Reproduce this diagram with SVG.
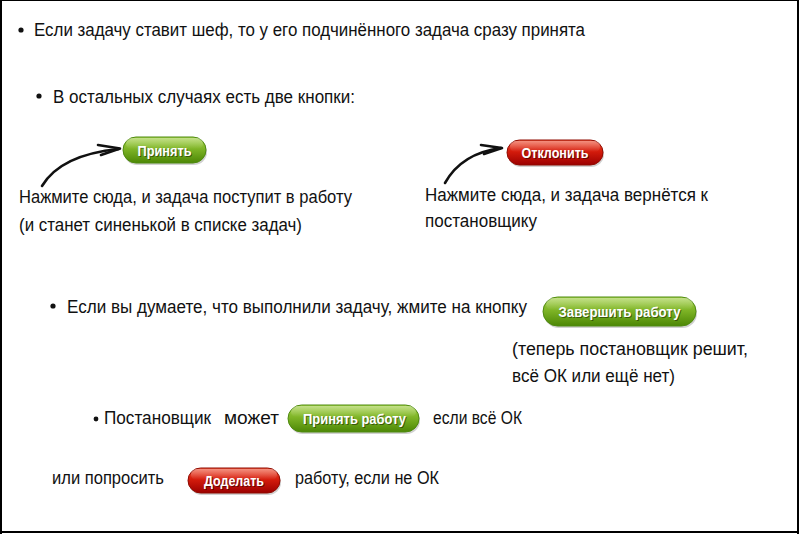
<svg xmlns="http://www.w3.org/2000/svg" width="800" height="534" viewBox="0 0 800 534">
<defs>
<linearGradient id="gGreen" x1="0" y1="0" x2="0" y2="1">
<stop offset="0" stop-color="#a6d24a"/>
<stop offset="0.45" stop-color="#7fb527"/>
<stop offset="1" stop-color="#4c8705"/>
</linearGradient>
<linearGradient id="gRed" x1="0" y1="0" x2="0" y2="1">
<stop offset="0" stop-color="#f0583c"/>
<stop offset="0.45" stop-color="#d51c0c"/>
<stop offset="1" stop-color="#9c0000"/>
</linearGradient>
<linearGradient id="gShine" x1="0" y1="0" x2="0" y2="1">
<stop offset="0" stop-color="#ffffff" stop-opacity="0.35"/>
<stop offset="1" stop-color="#ffffff" stop-opacity="0"/>
</linearGradient>
</defs>
<style>
.t{font-family:"Liberation Sans","DejaVu Sans",sans-serif;font-size:17.5px;fill:#111;}
.b{font-family:"Liberation Sans","DejaVu Sans",sans-serif;font-size:15px;font-weight:bold;fill:#fff;text-anchor:middle;}
.bs{font-family:"Liberation Sans","DejaVu Sans",sans-serif;font-size:15px;font-weight:bold;fill:#000;fill-opacity:0.45;text-anchor:middle;}
.green{fill:url(#gGreen);stroke:#4f8a10;stroke-width:1;}
.red{fill:url(#gRed);stroke:#8e0a00;stroke-width:1;}
.shadow{fill:#000;fill-opacity:0.18;}
.shine{fill:url(#gShine);}
.dot{fill:#111;}
.arr{fill:none;stroke:#111;stroke-width:2.6;stroke-linecap:round;stroke-linejoin:round;}
.frame{stroke:#000;}
</style>
<rect x="0" y="0" width="800" height="534" fill="#fff"/>
<g id="frame">
<line class="frame" x1="0" y1="0.5" x2="799" y2="0.5" stroke-width="1"/>
<line class="frame" x1="1" y1="0" x2="1" y2="534" stroke-width="2"/>
<line class="frame" x1="798" y1="0" x2="798" y2="534" stroke-width="2"/>
<line class="frame" x1="0" y1="532" x2="799" y2="532" stroke-width="2"/>
</g>
<g id="item1">
<circle class="dot" cx="21" cy="30" r="2.6"/>
<text class="t" x="34" y="36" textLength="551" lengthAdjust="spacingAndGlyphs">Если задачу ставит шеф, то у его подчинённого задача сразу принята</text>
</g>
<g id="item2">
<circle class="dot" cx="39" cy="96" r="2.6"/>
<text class="t" x="53" y="103" textLength="302" lengthAdjust="spacingAndGlyphs">В остальных случаях есть две кнопки:</text>
</g>
<g id="btn-accept">
<rect class="shadow" x="124" y="139" width="83" height="26" rx="13"/>
<rect class="green" x="123" y="137" width="83" height="26" rx="13"/>
<rect class="shine" x="126" y="138" width="77" height="11" rx="5.5"/>
<text class="bs" x="165.5" y="156.5" textLength="54" lengthAdjust="spacingAndGlyphs">Принять</text>
<text class="b" x="164.5" y="155.5" textLength="54" lengthAdjust="spacingAndGlyphs">Принять</text>
</g>
<g id="note-accept">
<text class="t" x="19" y="203" textLength="333" lengthAdjust="spacingAndGlyphs">Нажмите сюда, и задача поступит в работу</text>
<text class="t" x="19" y="231" textLength="283" lengthAdjust="spacingAndGlyphs">(и станет синенькой в списке задач)</text>
</g>
<g id="btn-reject">
<rect class="shadow" x="508" y="142" width="96" height="25" rx="12.5"/>
<rect class="red" x="507" y="140" width="96" height="25" rx="12.5"/>
<rect class="shine" x="510" y="141" width="90" height="11" rx="5.5"/>
<text class="bs" x="556" y="158.5" textLength="67" lengthAdjust="spacingAndGlyphs">Отклонить</text>
<text class="b" x="555" y="157.5" textLength="67" lengthAdjust="spacingAndGlyphs">Отклонить</text>
</g>
<g id="note-reject">
<text class="t" x="425" y="201" textLength="283" lengthAdjust="spacingAndGlyphs">Нажмите сюда, и задача вернётся к</text>
<text class="t" x="425" y="227" textLength="112" lengthAdjust="spacingAndGlyphs">постановщику</text>
</g>
<g id="item3">
<circle class="dot" cx="53" cy="306" r="2.6"/>
<text class="t" x="67" y="313" textLength="460" lengthAdjust="spacingAndGlyphs">Если вы думаете, что выполнили задачу, жмите на кнопку</text>
</g>
<g id="btn-finish">
<rect class="shadow" x="544" y="299" width="153" height="29" rx="14.5"/>
<rect class="green" x="543" y="297" width="153" height="29" rx="14.5"/>
<rect class="shine" x="546" y="298" width="147" height="12" rx="6"/>
<text class="bs" x="620.5" y="317.5" textLength="122" lengthAdjust="spacingAndGlyphs">Завершить работу</text>
<text class="b" x="619.5" y="316.5" textLength="122" lengthAdjust="spacingAndGlyphs">Завершить работу</text>
</g>
<g id="note-finish">
<text class="t" x="512" y="355" textLength="236" lengthAdjust="spacingAndGlyphs">(теперь постановщик решит,</text>
<text class="t" x="512" y="382" textLength="163" lengthAdjust="spacingAndGlyphs">всё ОК или ещё нет)</text>
</g>
<g id="item4">
<circle class="dot" cx="96" cy="419" r="2.4"/>
<text class="t" x="104" y="424" textLength="107" lengthAdjust="spacingAndGlyphs">Постановщик</text>
<text class="t" x="224" y="424" textLength="55" lengthAdjust="spacingAndGlyphs">может</text>
<text class="t" x="433" y="424" textLength="89" lengthAdjust="spacingAndGlyphs">если всё ОК</text>
</g>
<g id="btn-accept-work">
<rect class="shadow" x="289" y="407" width="131" height="27" rx="13.5"/>
<rect class="green" x="288" y="405" width="131" height="27" rx="13.5"/>
<rect class="shine" x="291" y="406" width="125" height="11" rx="5.5"/>
<text class="bs" x="355.5" y="424.5" textLength="103" lengthAdjust="spacingAndGlyphs">Принять работу</text>
<text class="b" x="354.5" y="423.5" textLength="103" lengthAdjust="spacingAndGlyphs">Принять работу</text>
</g>
<g id="item5">
<text class="t" x="52" y="484" textLength="112" lengthAdjust="spacingAndGlyphs">или попросить</text>
<text class="t" x="295" y="484" textLength="144" lengthAdjust="spacingAndGlyphs">работу, если не ОК</text>
</g>
<g id="btn-rework">
<rect class="shadow" x="189" y="470" width="92" height="25" rx="12.5"/>
<rect class="red" x="188" y="468" width="92" height="25" rx="12.5"/>
<rect class="shine" x="191" y="469" width="86" height="11" rx="5.5"/>
<text class="bs" x="235" y="486.5" textLength="60" lengthAdjust="spacingAndGlyphs">Доделать</text>
<text class="b" x="234" y="485.5" textLength="60" lengthAdjust="spacingAndGlyphs">Доделать</text>
</g>
<g id="connectors">
<path class="arr" d="M42,186 C54,166 78,153 119,149"/>
<path class="arr" d="M98,145 L120,148.5 L101,155"/>
<path class="arr" d="M445,183 C455,165 471,152 501,148"/>
<path class="arr" d="M481,145 L502,148 L484,154"/>
</g>
</svg>
